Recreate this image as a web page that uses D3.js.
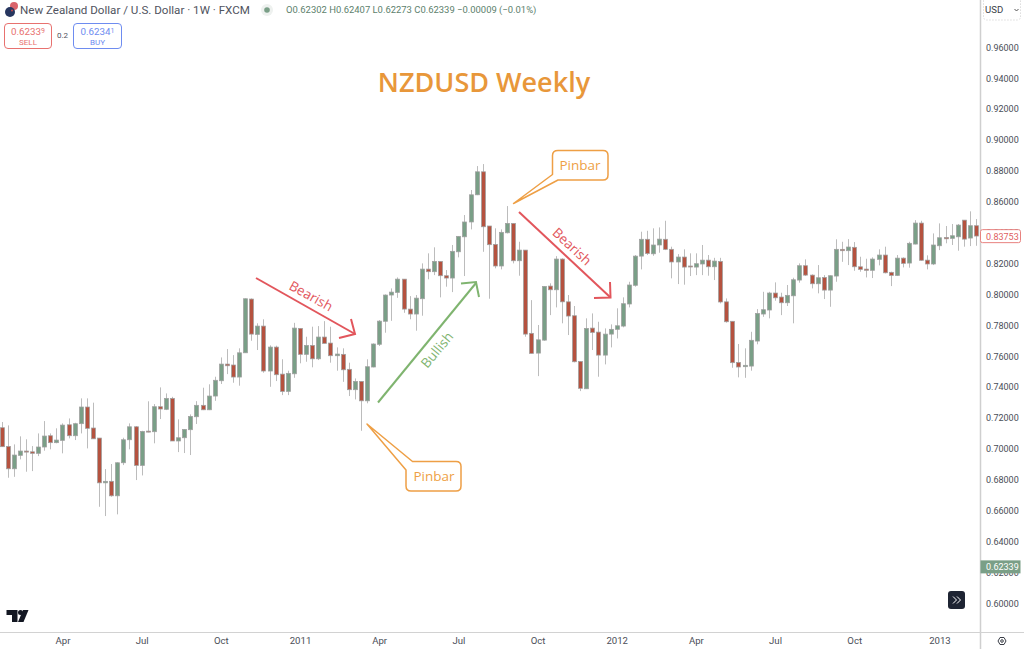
<!DOCTYPE html>
<html>
<head>
<meta charset="utf-8">
<script src="https://cdn.jsdelivr.net/npm/d3@7"></script>
<style>
  html, body { margin: 0; padding: 0; background: #fff; }
  svg { display: block; }
  text { font-family: "Roboto", sans-serif; }
</style>
</head>
<body>
<script>
// weekly candles
const opens = [
  .7135,.7014,.6869,.6956,.6984,.6979,.6969,.7010,.7083,.7038,
  .7053,.7154,.7083,.7161,.7269,.7133,.7068,.6778,.6788,.6694,
  .6908,.7057,.7141,.6891,.7113,.7109,.7271,.7254,.7325,.7049,
  .7070,.7122,.7206,.7280,.7251,.7340,.7439,.7547,.7541,.7463,
  .7620,.7968,.7739,.7793,.7502,.7657,.7482,.7370,.7484,.7778,
  .7610,.7668,.7581,.7722,.7683,.7601,.7610,.7513,.7381,.7435,
  .7309,.7528,.7675,.7824,.7994,.8011,.8097,.7903,.7871,.7970,
  .8162,.8145,.8212,.8119,.8104,.8274,.8371,.8467,.8643,.8792,
  .8441,.8322,.8182,.8397,.8458,.8216,.8285,.7746,.7618,.7702,
  .8052,.8028,.8227,.7950,.7860,.7564,.7387,.7780,.7754,.7605,
  .7741,.7772,.7793,.7936,.8057,.8246,.8355,.8261,.8318,.8355,
  .8290,.8208,.8240,.8182,.8175,.8195,.8220,.8177,.8212,.7950,
  .7824,.7558,.7530,.7534,.7696,.7871,.7897,.8007,.7981,.7944,
  .7989,.8091,.8184,.8123,.8067,.8108,.8026,.8117,.8290,.8281,
  .8303,.8177,.8162,.8154,.8225,.8253,.8141,.8121,.8233,.8201,
  .8324,.8460,.8220,.8195,.8313,.8367,.8361,.8371,.8479,.8363,
  .8443];
const closes = [
  .7012,.6869,.6958,.6984,.6977,.6969,.7010,.7081,.7038,.7055,
  .7152,.7083,.7161,.7269,.7131,.7063,.6778,.6788,.6694,.6908,
  .7057,.7141,.6891,.7111,.7109,.7271,.7256,.7325,.7049,.7070,
  .7124,.7208,.7280,.7251,.7340,.7442,.7547,.7536,.7463,.7620,
  .7970,.7741,.7793,.7502,.7657,.7478,.7370,.7487,.7780,.7610,
  .7668,.7581,.7722,.7681,.7601,.7612,.7510,.7381,.7435,.7309,
  .7530,.7677,.7825,.7994,.8013,.8097,.7903,.7871,.7974,.8162,
  .8145,.8212,.8119,.8104,.8277,.8374,.8467,.8643,.8792,.8436,
  .8320,.8182,.8400,.8458,.8216,.8285,.7741,.7616,.7704,.8050,
  .8028,.8227,.7950,.7858,.7562,.7390,.7778,.7752,.7605,.7741,
  .7772,.7795,.7938,.8059,.8246,.8355,.8263,.8318,.8356,.8290,
  .8208,.8240,.8175,.8177,.8197,.8220,.8177,.8214,.7949,.7821,
  .7556,.7528,.7539,.7701,.7875,.7899,.8007,.7976,.7944,.7992,
  .8093,.8184,.8123,.8067,.8106,.8026,.8119,.8290,.8281,.8305,
  .8177,.8160,.8154,.8227,.8253,.8138,.8121,.8233,.8199,.8329,
  .8460,.8219,.8195,.8318,.8365,.8358,.8378,.8447,.8356,.8443,
  .8376];
const highs = [
  .7172,.7150,.7027,.7079,.7060,.7016,.7098,.7178,.7098,.7131,
  .7163,.7195,.7167,.7325,.7325,.7297,.7068,.6867,.6900,.6911,
  .7070,.7163,.7146,.7115,.7306,.7288,.7396,.7357,.7335,.7189,
  .7126,.7221,.7307,.7394,.7416,.7465,.7590,.7644,.7605,.7649,
  .7972,.7972,.7811,.7837,.7668,.7666,.7578,.7504,.7814,.7778,
  .7724,.7789,.7793,.7825,.7789,.7655,.7649,.7556,.7454,.7435,
  .7578,.7681,.7832,.7998,.8037,.8108,.8097,.7987,.7994,.8199,
  .8264,.8303,.8212,.8156,.8318,.8376,.8512,.8674,.8829,.8842,
  .8441,.8426,.8419,.8570,.8458,.8339,.8285,.7961,.7800,.8052,
  .8070,.8246,.8232,.7994,.7923,.7566,.7843,.7875,.7821,.7778,
  .7804,.7908,.7979,.8080,.8253,.8404,.8410,.8426,.8432,.8475,
  .8307,.8259,.8290,.8264,.8264,.8318,.8253,.8235,.8235,.7972,
  .7824,.7677,.7649,.7756,.7903,.8015,.8015,.8076,.8009,.8059,
  .8106,.8199,.8225,.8128,.8188,.8123,.8121,.8355,.8339,.8356,
  .8337,.8242,.8229,.8238,.8290,.8307,.8145,.8253,.8238,.8339,
  .8479,.8475,.8251,.8393,.8458,.8441,.8454,.8454,.8479,.8536,
  .8486];
const lows = [
  .7010,.6811,.6817,.6930,.6850,.6854,.6951,.6986,.6995,.7034,
  .6969,.7066,.7055,.7098,.7001,.7063,.6623,.6563,.6688,.6574,
  .6893,.6995,.6796,.6826,.7105,.7034,.7191,.7249,.7049,.6977,
  .6971,.6958,.7159,.7249,.7249,.7309,.7418,.7482,.7426,.7407,
  .7620,.7698,.7638,.7491,.7400,.7437,.7346,.7346,.7458,.7552,
  .7562,.7526,.7573,.7681,.7556,.7504,.7432,.7340,.7318,.7115,
  .7293,.7526,.7664,.7750,.7827,.7976,.7879,.7837,.7763,.7860,
  .8096,.8123,.7979,.8048,.8013,.8238,.8117,.8419,.8641,.8274,
  .7970,.8167,.8160,.8393,.8199,.8119,.7724,.7616,.7469,.7698,
  .7864,.7914,.7811,.7735,.7558,.7372,.7387,.7638,.7465,.7545,
  .7655,.7713,.7785,.7914,.8048,.8160,.8253,.8248,.8268,.8285,
  .8102,.8065,.8061,.8117,.8123,.8123,.8119,.8091,.7940,.7815,
  .7523,.7461,.7458,.7504,.7675,.7853,.7843,.7957,.7864,.7923,
  .7811,.8074,.8117,.8037,.8005,.7968,.7918,.8080,.8209,.8188,
  .8151,.8145,.8108,.8104,.8186,.8134,.8052,.8117,.8173,.8171,
  .8322,.8216,.8160,.8188,.8285,.8329,.8318,.8281,.8307,.8311,
  .8313];

// price axis and time axis labels (time ticks are candle positions)
const priceTicks = [.60,.62,.64,.66,.68,.70,.72,.74,.76,.78,.80,.82,.84,.86,.88,.90,.92,.94,.96];
const timeLabels = ["Apr","Jul","Oct","2011","Apr","Jul","Oct","2012","Apr","Jul","Oct","2013"];
const timeIndex = [10,23,36,49,62,75,88,101,114,127,140,154];
const lastPrice = 0.62339;
const markPrice = 0.83753;

const width = 1024, height = 649;
const paneRight = 980, paneBottom = 632;
const upColor = "#7a9f87", downColor = "#b5523f";
const orange = "#ee9f45", red = "#e2565c", green = "#7fb46f";

const x = d3.scaleLinear().domain([0, 160]).range([1.58, 976]);
const y = d3.scaleLinear().domain([0.60, 0.96]).range([603, 47]);

const svg = d3.select("body").append("svg")
  .attr("width", width).attr("height", height);

const candles = d3.range(opens.length).map(i => ({
  i, o: opens[i], h: highs[i], l: lows[i], c: closes[i]
}));

// candles, snapped to the pixel grid like the trading widget does
const pane = svg.append("g");
const snap = v => Math.round(x(v));

pane.selectAll(".wick").data(candles).join("line")
  .attr("class", "wick")
  .attr("x1", d => snap(d.i) + 0.5).attr("x2", d => snap(d.i) + 0.5)
  .attr("y1", d => y(d.h)).attr("y2", d => y(d.l))
  .attr("stroke", "#bcbcbc").attr("stroke-width", 1);

pane.selectAll(".body").data(candles).join("rect")
  .attr("class", "body")
  .attr("x", d => snap(d.i) - 1.5)
  .attr("width", 4)
  .attr("y", d => y(Math.max(d.o, d.c)))
  .attr("height", d => Math.max(1, Math.abs(y(d.o) - y(d.c))))
  .attr("fill", d => d.c >= d.o ? upColor : downColor)
  .attr("stroke", "#a0a0a0").attr("stroke-width", 0.75);

// axis frame
svg.append("line").attr("x1", paneRight + 0.5).attr("x2", paneRight + 0.5)
  .attr("y1", 0).attr("y2", height).attr("stroke", "#cfcfcf").attr("stroke-width", 1.5);
svg.append("line").attr("x1", 0).attr("x2", width)
  .attr("y1", paneBottom + 0.5).attr("y2", paneBottom + 0.5).attr("stroke", "#d2d2d2");

// price axis
const priceAxis = d3.axisRight(y).tickValues(priceTicks)
  .tickFormat(d3.format(".5f")).tickSize(0).tickPadding(0);
const pa = svg.append("g").attr("transform", `translate(${paneRight + 6},0)`).call(priceAxis);
pa.select(".domain").remove();
pa.selectAll("text").attr("font-size", 9).attr("fill", "#4a4e57").attr("dy", "0.35em");

// time axis
const timeAxis = d3.axisBottom(x).tickValues(timeIndex)
  .tickFormat((d, i) => timeLabels[i]).tickSize(0).tickPadding(0);
const ta = svg.append("g").attr("transform", `translate(0,${paneBottom + 5})`).call(timeAxis);
ta.select(".domain").remove();
ta.selectAll("text").attr("font-size", 9.6).attr("fill", "#4a4e57");

// price tags on the axis
svg.append("rect").attr("x", paneRight + 0.5).attr("y", y(markPrice) - 6.5)
  .attr("width", 40).attr("height", 13).attr("rx", 2)
  .attr("fill", "#fff").attr("stroke", "#e8827f");
svg.append("text").attr("x", paneRight + 6).attr("y", y(markPrice) + 3.5)
  .attr("font-size", 9).attr("fill", "#e0605f").text(d3.format(".5f")(markPrice));
svg.append("rect").attr("x", paneRight + 0.5).attr("y", y(lastPrice) - 6.5)
  .attr("width", 40).attr("height", 13).attr("fill", upColor);
svg.append("text").attr("x", paneRight + 6).attr("y", y(lastPrice) + 3.5)
  .attr("font-size", 9).attr("fill", "#fff").text(d3.format(".5f")(lastPrice));

// currency selector
svg.append("rect").attr("x", 983.5).attr("y", -3).attr("width", 37).attr("height", 23).attr("rx", 3)
  .attr("fill", "#fff").attr("stroke", "#dcdcdc").attr("stroke-dasharray", "1.5 1.5");
svg.append("text").attr("x", 985).attr("y", 13).attr("font-size", 9.6).attr("fill", "#3a3e47").text("USD");
svg.append("path").attr("d", "M1014.5,9 l2,2 l2,-2").attr("fill", "none").attr("stroke", "#555");

// header
const flags = svg.append("g");
flags.append("circle").attr("cx", 14).attr("cy", 6).attr("r", 4).attr("fill", "#d9636b");
flags.append("circle").attr("cx", 10).attr("cy", 12).attr("r", 5).attr("fill", "#27365f");
flags.append("circle").attr("cx", 12).attr("cy", 10.5).attr("r", 0.9).attr("fill", "#d94b4b");

svg.append("text").attr("x", 20).attr("y", 14).attr("font-size", 11.6).attr("fill", "#50535e")
  .text("New Zealand Dollar / U.S. Dollar · 1W · FXCM");
svg.append("circle").attr("cx", 267).attr("cy", 10).attr("r", 6).attr("fill", "#eef1ef");
svg.append("circle").attr("cx", 267).attr("cy", 10).attr("r", 2.8).attr("fill", upColor);
svg.append("text").attr("x", 286).attr("y", 13).attr("font-size", 9.45).attr("fill", "#5d7f6d")
  .text("O0.62302 H0.62407 L0.62273 C0.62339 −0.00009 (−0.01%)");

// sell and buy buttons
function tradeButton(bx, bw, color, main, small, label) {
  svg.append("rect").attr("x", bx + 0.5).attr("y", 23.5).attr("width", bw).attr("height", 25).attr("rx", 3.5)
    .attr("fill", "#fff").attr("stroke", color);
  const t = svg.append("text").attr("x", bx + bw / 2 + 0.5).attr("y", 34.5).attr("text-anchor", "middle")
    .attr("font-size", 9.8).attr("fill", color).text(main);
  t.append("tspan").attr("font-size", 7).attr("dy", -1.5).text(small);
  svg.append("text").attr("x", bx + bw / 2 + 0.5).attr("y", 45).attr("text-anchor", "middle")
    .attr("font-size", 8).attr("fill", color).text(label);
}
tradeButton(4, 47, "#e8716f", "0.6233", "9", "SELL");
tradeButton(73, 48, "#6e8cf0", "0.6234", "1", "BUY");
svg.append("text").attr("x", 62.5).attr("y", 38).attr("text-anchor", "middle")
  .attr("font-size", 8).attr("fill", "#50535e").text("0.2");

// title
svg.append("text").attr("x", 484).attr("y", 92).attr("text-anchor", "middle")
  .style("font-family", "'Open Sans'").attr("font-weight", 600).attr("font-size", 27)
  .attr("fill", "#e8973a").text("NZDUSD Weekly");

// hand drawn arrows with their labels
function arrow(points, head, color, label, lx, ly, angle) {
  const line = d3.line();
  svg.append("path").attr("d", line(points)).attr("fill", "none")
    .attr("stroke", color).attr("stroke-width", 2);
  svg.append("path").attr("d", line(head)).attr("fill", "none")
    .attr("stroke", color).attr("stroke-width", 2);
  svg.append("text").attr("transform", `translate(${lx},${ly}) rotate(${angle})`)
    .attr("text-anchor", "middle").attr("dy", "0.35em")
    .style("font-family", "'Open Sans'").attr("font-size", 13.5).attr("fill", color).text(label);
}
arrow([[256, 278], [355, 334]], [[351, 319], [355, 334], [339, 338]], red, "Bearish", 311, 296, 29);
arrow([[378, 402.5], [476, 283]], [[461, 283.5], [476, 282], [479, 297]], green, "Bullish", 437, 350, -50);
arrow([[519, 212], [610.5, 297.5]], [[610, 282], [610.5, 297.5], [594, 298]], red, "Bearish", 572, 246.5, 43);

// pinbar callouts
function callout(points, label, tx, ty) {
  svg.append("path").attr("d", points).attr("fill", "#fff")
    .attr("stroke", orange).attr("stroke-width", 1.5).attr("stroke-linejoin", "round");
  svg.append("text").attr("x", tx).attr("y", ty).attr("text-anchor", "middle").attr("dy", "0.35em")
    .style("font-family", "'Open Sans'").attr("font-size", 13.5).attr("fill", orange).text(label);
}
callout("M558,150.5 H603 Q608,150.5 608,155.5 V175 Q608,180 603,180 H558 L513.5,203.5 L552.5,174.5 V155.5 Q552.5,150.5 558,150.5 Z",
  "Pinbar", 580, 165);
callout("M412.5,461.5 H456 Q461,461.5 461,466.5 V486 Q461,491 456,491 H411 Q406,491 406,486 V470 L367,424 Z",
  "Pinbar", 434, 476.5);

// scroll to latest button
svg.append("rect").attr("x", 948).attr("y", 591).attr("width", 17).attr("height", 18).attr("rx", 3).attr("fill", "#1e2433");
svg.append("path").attr("d", "M953,596.5 l3.5,3.5 l-3.5,3.5 M957,596.5 l3.5,3.5 l-3.5,3.5")
  .attr("fill", "none").attr("stroke", "#fff").attr("stroke-width", 1);

// logo
const logo = svg.append("g").attr("fill", "#131722");
logo.append("path").attr("d", "M6.5,610 H17.5 V622 H12 V615 H6.5 Z");
logo.append("circle").attr("cx", 20.5).attr("cy", 612.5).attr("r", 2.5);
logo.append("path").attr("d", "M23,610 H28.5 L23.5,622 H18 Z");

// settings icon
svg.append("path").attr("d", "M998,641 l2,-3.5 h4 l2,3.5 l-2,3.5 h-4 Z")
  .attr("fill", "none").attr("stroke", "#3a3e47");
svg.append("circle").attr("cx", 1002).attr("cy", 641).attr("r", 1.3)
  .attr("fill", "none").attr("stroke", "#3a3e47");
</script>
</body>
</html>
